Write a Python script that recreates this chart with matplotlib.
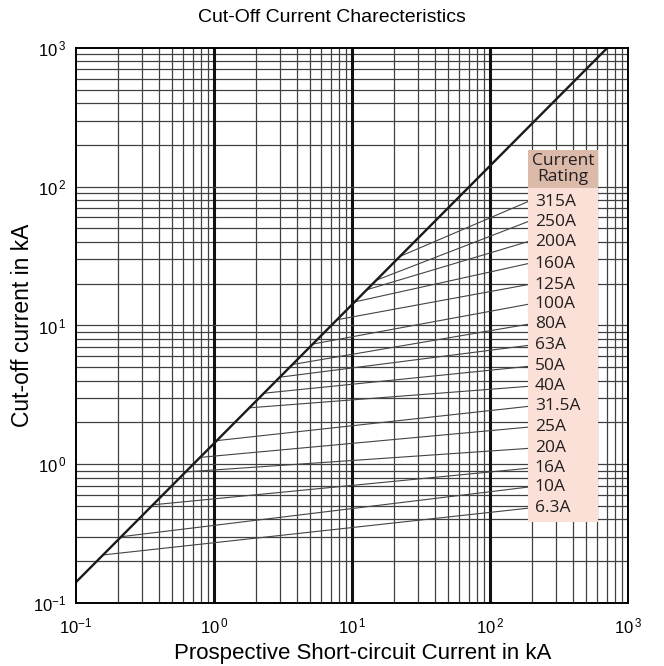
"""Fuse cut-off current characteristics (log-log chart with rating lines)."""
import matplotlib
matplotlib.use("Agg")
import matplotlib.pyplot as plt
from matplotlib.patches import Rectangle
from matplotlib.ticker import FixedLocator, NullFormatter
import matplotlib.transforms as mtransforms

plt.rcParams["font.family"] = ["Liberation Sans", "DejaVu Sans"]

# -----------------------------------------------------------------------------
# Data
# -----------------------------------------------------------------------------
ratings = ["315A", "250A", "200A", "160A", "125A", "100A", "80A", "63A",
           "50A", "40A", "31.5A", "25A", "20A", "16A", "10A", "6.3A"]
# where each rating line leaves the peak line (prospective kA, cut-off kA)
start_ka = [22.3, 15.0, 12.8, 10.5, 7.8, 5.2, 3.7, 3.0,
            2.3, 1.8, 1.05, 0.79, 0.62, 0.36, 0.21, 0.157]
start_cutoff = [31.5, 21.2, 18.1, 14.8, 11.0, 7.35, 5.23, 4.24,
                3.25, 2.55, 1.48, 1.12, 0.88, 0.51, 0.30, 0.222]
# where each line reaches the label box
end_ka = 188
end_cutoff = [78, 56, 40.2, 27.9, 19.7, 14.2, 10.2, 7.18,
              5.07, 3.64, 2.61, 1.85, 1.30, 0.935, 0.684, 0.482]

# unlimited peak current line
peak_x = [0.1, 707]
peak_y = [0.1414, 1000]

decades = [0.1, 1, 10, 100, 1000]
decade_labels = [r"$\mathregular{10^{-1}}$", r"$\mathregular{10^{\,0}}$",
                 r"$\mathregular{10^{\,1}}$", r"$\mathregular{10^{\,2}}$",
                 r"$\mathregular{10^{\,3}}$"]

# -----------------------------------------------------------------------------
# Plot
# -----------------------------------------------------------------------------
fig = plt.figure(figsize=(6.64, 6.66), dpi=100)
ax = fig.add_axes([0.1145, 0.0946, 0.8313, 0.8334])
ax.set_xscale("log")
ax.set_yscale("log")
ax.set_xlim(0.1, 1000)
ax.set_ylim(0.1, 1000)

minor = [m * d for d in decades[:-1] for m in range(2, 10)]
ax.xaxis.set_major_locator(FixedLocator(decades))
ax.yaxis.set_major_locator(FixedLocator(decades))
ax.xaxis.set_minor_locator(FixedLocator(minor))
ax.yaxis.set_minor_locator(FixedLocator(minor))
ax.xaxis.set_minor_formatter(NullFormatter())
ax.yaxis.set_minor_formatter(NullFormatter())
ax.set_xticklabels(decade_labels, fontsize=12)
ax.set_yticklabels(decade_labels, fontsize=12)
ax.tick_params(axis="x", which="both", length=0, pad=10)
ax.tick_params(axis="y", which="both", length=0, pad=7)

# grid: thin for minors / horizontal, heavy for vertical decades
for v in minor:
    ax.axvline(v, color="#404040", lw=0.9, zorder=1)
    ax.axhline(v, color="#404040", lw=0.9, zorder=1)
for v in decades[1:-1]:
    ax.axvline(v, color="#111111", lw=2.2, zorder=1)
    ax.axhline(v, color="#404040", lw=0.9, zorder=1)

ax.plot(peak_x, peak_y, color="#1a1a1a", lw=1.7, zorder=3)
for sx, sy, ey in zip(start_ka, start_cutoff, end_cutoff):
    ax.plot([sx, end_ka], [sy, ey], color="#444444", lw=0.8, zorder=2)

for s in ax.spines.values():
    s.set_linewidth(1.4)
    s.set_zorder(6)

# label box
box_x0, box_w = 0.819, 0.127
ax.add_patch(Rectangle((box_x0, 0.146), box_w, 0.602, transform=ax.transAxes,
                       facecolor="#fbe0d8", edgecolor="none", zorder=4))
ax.add_patch(Rectangle((box_x0, 0.748), box_w, 0.068, transform=ax.transAxes,
                       facecolor="#dcbaaa", edgecolor="none", zorder=4))
ax.text(box_x0 + box_w / 2, 0.782, "Current\nRating", transform=ax.transAxes,
        ha="center", va="center", fontsize=12.5, color="#231f20",
        family="Open Sans", linespacing=0.95, zorder=5)

trans = mtransforms.blended_transform_factory(ax.transAxes, ax.transData)
for name, ey in zip(ratings, end_cutoff):
    ax.text(0.831, ey, name, transform=trans, ha="left", va="center",
            fontsize=12.5, color="#231f20", family="Open Sans", zorder=5)

fig.text(0.5, 1 - 18 / 666, "Cut-Off Current Charecteristics", fontsize=14,
         ha="center", va="center")
ax.set_xlabel("Prospective Short-circuit Current in kA", fontsize=16, labelpad=6)
ax.xaxis.set_label_coords(0.52, -0.072)
ax.set_ylabel("Cut-off current in kA", fontsize=16.5, labelpad=-1)

plt.savefig("out.png", dpi=100)
plt.close()
